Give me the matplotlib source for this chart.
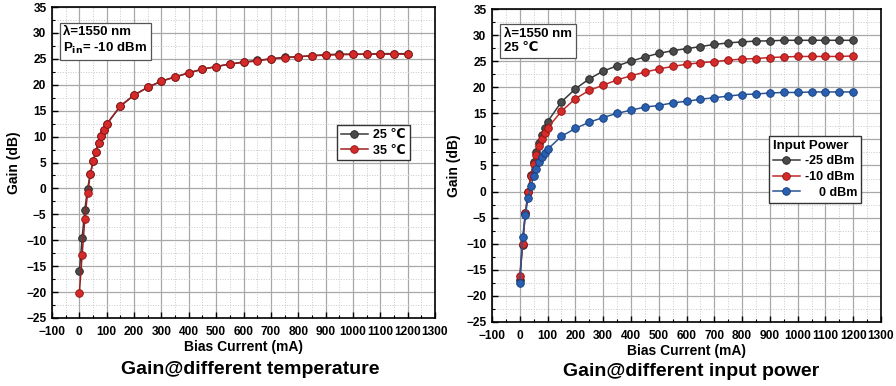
import matplotlib
matplotlib.use("Agg")
import matplotlib.pyplot as plt
from matplotlib.ticker import MultipleLocator

plt.rcParams['font.family'] = ['Liberation Sans', 'DejaVu Sans']
plt.rcParams['font.weight'] = 'bold'

# bias current points (mA), same for every curve
current = [0, 10, 20, 30, 40, 50, 60, 70, 80, 90, 100,
           150, 200, 250, 300, 350, 400, 450, 500, 550, 600, 650, 700,
           750, 800, 850, 900, 950, 1000, 1050, 1100, 1150, 1200]

# left panel: gain vs temperature (Pin = -10 dBm)
gain_25c = [-16.0, -9.6, -4.1, -0.1, 2.8, 5.2, 7.1, 8.8, 10.1, 11.3, 12.4,
            15.9, 18.0, 19.5, 20.7, 21.5, 22.3, 23.0, 23.5, 24.0, 24.4, 24.7, 25.0,
            25.3, 25.4, 25.6, 25.8, 25.9, 25.9, 25.9, 26.0, 26.0, 26.0]
gain_35c = [-20.2, -12.9, -5.9, -0.9, 2.7, 5.2, 7.1, 8.8, 10.1, 11.3, 12.4,
            15.9, 18.0, 19.5, 20.7, 21.5, 22.3, 23.0, 23.5, 24.0, 24.3, 24.6, 25.0,
            25.2, 25.4, 25.6, 25.7, 25.8, 25.85, 25.9, 25.9, 25.9, 25.9]

# right panel: gain vs input power (25 C)
gain_m25 = [-17.0, -10.3, -4.2, 0.0, 3.2, 5.7, 7.6, 9.4, 10.9, 12.2, 13.4,
            17.2, 19.7, 21.6, 23.1, 24.1, 25.0, 25.8, 26.5, 27.0, 27.4, 27.8, 28.2,
            28.5, 28.7, 28.85, 28.9, 29.0, 29.0, 29.0, 29.0, 29.0, 29.0]
gain_m10 = [-16.1, -10.0, -4.2, -0.1, 2.9, 5.3, 7.1, 8.7, 10.0, 11.2, 12.2,
            15.4, 17.8, 19.4, 20.4, 21.4, 22.2, 22.9, 23.5, 24.0, 24.4, 24.7, 24.9,
            25.2, 25.4, 25.5, 25.7, 25.8, 25.9, 25.9, 25.9, 25.9, 26.0]
gain_0 = [-17.6, -8.8, -4.4, -1.2, 1.1, 2.9, 4.4, 5.7, 6.7, 7.4, 8.1,
          10.6, 12.1, 13.3, 14.2, 15.0, 15.6, 16.2, 16.5, 17.0, 17.3, 17.7, 18.0,
          18.3, 18.6, 18.7, 18.9, 19.0, 19.0, 19.1, 19.1, 19.1, 19.1]

W, H = 896, 386
fig = plt.figure(figsize=(W / 100, H / 100), dpi=100)


def px_axes(x0, y0, x1, y1):
    return fig.add_axes([x0 / W, 1 - y1 / H, (x1 - x0) / W, (y1 - y0) / H])


def style_axes(ax):
    ax.set_xlim(-100, 1300)
    ax.set_ylim(-25, 35)
    ax.xaxis.set_major_locator(MultipleLocator(100))
    ax.xaxis.set_minor_locator(MultipleLocator(50))
    ax.yaxis.set_major_locator(MultipleLocator(5))
    ax.yaxis.set_minor_locator(MultipleLocator(2.5))
    ax.grid(which='major', color='#a8a8a8', lw=0.9)
    ax.grid(which='minor', color='#c8c8c8', lw=0.7, ls=':')
    ax.set_axisbelow(True)
    ax.tick_params(which='major', direction='in', length=4, width=1, labelsize=8.6)
    ax.tick_params(axis='x', which='major', pad=6)
    ax.tick_params(axis='y', which='major', pad=4)
    ax.tick_params(which='minor', direction='in', length=2, width=0.8)
    for lab in ax.get_xticklabels() + ax.get_yticklabels():
        lab.set_fontweight('bold')
    for s in ax.spines.values():
        s.set_linewidth(1.2)
    ax.set_xlabel('Bias Current (mA)', fontsize=10, fontweight='bold', labelpad=1)
    ax.set_ylabel('Gain (dB)', fontsize=10, fontweight='bold', labelpad=4)


def curve(ax, y, face, edge, line, label):
    ax.plot(current, y, '-o', color=line, lw=1.1, ms=5.5, mfc=face, mec=edge,
            mew=0.6, label=label)


# left panel
ax1 = px_axes(52, 7, 435, 318)
style_axes(ax1)
curve(ax1, gain_25c, '#4a4a4a', '#222222', '#3a3a3a', '25 \u2103')
curve(ax1, gain_35c, '#d42a2a', '#8f1010', '#9c2020', '35 \u2103')
ax1.text(0.03, 0.94, '\u03bb=1550 nm\nP$_\\mathbf{in}$= -10 dBm', transform=ax1.transAxes,
         fontsize=9.5, fontweight='bold', va='top', ha='left', linespacing=1.3,
         bbox=dict(boxstyle='square,pad=0.3', fc='white', ec='#555555', lw=0.9))
ax1.legend(loc='upper right', bbox_to_anchor=(0.95, 0.64), fontsize=9,
           frameon=True, fancybox=False, edgecolor='#333333', framealpha=1,
           handlelength=2.2, borderpad=0.3, labelspacing=0.3, handletextpad=0.4)
fig.text(250 / W, 1 - 370 / H, 'Gain@different temperature', ha='center', va='center',
         fontsize=14, fontweight='bold')

# right panel
ax2 = px_axes(492, 9, 881, 322)
style_axes(ax2)
curve(ax2, gain_m25, '#4a4a4a', '#222222', '#3a3a3a', '-25 dBm')
curve(ax2, gain_m10, '#d42a2a', '#8f1010', '#c02a2a', '-10 dBm')
curve(ax2, gain_0, '#2a5fb0', '#123a7a', '#2a5590', '    0 dBm')
ax2.text(0.03, 0.94, '\u03bb=1550 nm\n25 \u2103', transform=ax2.transAxes,
         fontsize=9.5, fontweight='bold', va='top', ha='left', linespacing=1.3,
         bbox=dict(boxstyle='square,pad=0.3', fc='white', ec='#555555', lw=0.9))
leg = ax2.legend(loc='upper right', bbox_to_anchor=(0.965, 0.615), fontsize=9,
                 title='Input Power', title_fontproperties={'weight': 'bold', 'size': 9.5},
                 frameon=True, fancybox=False, edgecolor='#333333', framealpha=1,
                 handlelength=2.2, borderpad=0.3, labelspacing=0.3, handletextpad=0.4)
leg._legend_box.align = 'left'
fig.text(691 / W, 1 - 372 / H, 'Gain@different input power', ha='center', va='center',
         fontsize=14, fontweight='bold')

fig.savefig('out.png', dpi=100)
